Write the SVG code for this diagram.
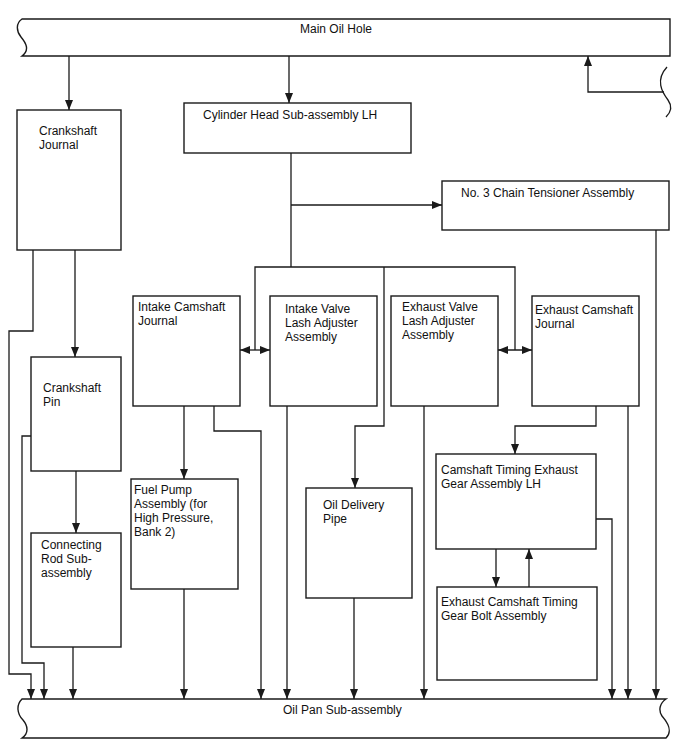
<svg xmlns="http://www.w3.org/2000/svg" width="688" height="755" viewBox="0 0 688 755">
<style>
.box{fill:#fff;stroke:#1a1a1a;stroke-width:1.4}
.ban{fill:#fff;stroke:#1a1a1a;stroke-width:1.4}
.c{fill:none;stroke:#1a1a1a;stroke-width:1.3}
.a{marker-end:url(#arr)}
.d{marker-start:url(#arr);marker-end:url(#arr)}
text{font-family:"Liberation Sans",Arial,sans-serif;font-size:12px;fill:#111}
</style>
<defs>
<marker id="arr" viewBox="0 0 10 8" markerWidth="10" markerHeight="8" refX="10" refY="4" orient="auto-start-reverse" markerUnits="userSpaceOnUse">
<path d="M0,0 L10,4 L0,8 z" fill="#1a1a1a"/>
</marker>
</defs>
<rect width="688" height="755" fill="#fff"/>

<g id="main-oil-hole">
<path class="ban" d="M22,19 H670 V56 H22 C30,50 26,43 21,37 C16,31 16,23 22,19 Z"/>
<text x="300" y="33">Main Oil Hole</text>
</g>
<g id="oil-pan">
<path class="ban" d="M22,699 H666 C660,703 658,710 662,716 C668,723 673,731 666,738 H22 C29,733 28,726 23,720 C17,714 16,705 22,699 Z"/>
<text x="283" y="714">Oil Pan Sub-assembly</text>
</g>
<g id="break-mark">
<path class="c" d="M667,67 C655,80 662,92 668,100 C673,107 670,113 666,117"/>
</g>

<g id="crankshaft-journal">
<rect class="box" x="17" y="110" width="104" height="140"/>
<text x="39" y="135">Crankshaft</text>
<text x="39" y="149">Journal</text>
</g>
<g id="cylinder-head">
<rect class="box" x="184" y="103" width="227" height="50"/>
<text x="203" y="119">Cylinder Head Sub-assembly LH</text>
</g>
<g id="chain-tensioner">
<rect class="box" x="442" y="181" width="227" height="49"/>
<text x="461" y="197">No. 3 Chain Tensioner Assembly</text>
</g>
<g id="intake-camshaft-journal">
<rect class="box" x="133" y="296" width="107" height="110"/>
<text x="138" y="311">Intake Camshaft</text>
<text x="138" y="325">Journal</text>
</g>
<g id="intake-valve-lash">
<rect class="box" x="270" y="296" width="107" height="110"/>
<text x="285" y="313">Intake Valve</text>
<text x="285" y="327">Lash Adjuster</text>
<text x="285" y="341">Assembly</text>
</g>
<g id="exhaust-valve-lash">
<rect class="box" x="391" y="296" width="107" height="110"/>
<text x="402" y="311">Exhaust Valve</text>
<text x="402" y="325">Lash Adjuster</text>
<text x="402" y="339">Assembly</text>
</g>
<g id="exhaust-camshaft-journal">
<rect class="box" x="532" y="296" width="107" height="110"/>
<text x="535" y="314">Exhaust Camshaft</text>
<text x="535" y="328">Journal</text>
</g>
<g id="crankshaft-pin">
<rect class="box" x="31" y="357" width="90" height="114"/>
<text x="43" y="392">Crankshaft</text>
<text x="43" y="406">Pin</text>
</g>
<g id="fuel-pump">
<rect class="box" x="131" y="479" width="107" height="110"/>
<text x="134" y="494">Fuel Pump</text>
<text x="134" y="508">Assembly (for</text>
<text x="134" y="522">High Pressure,</text>
<text x="134" y="536">Bank 2)</text>
</g>
<g id="oil-delivery-pipe">
<rect class="box" x="306" y="488" width="106" height="110"/>
<text x="323" y="509">Oil Delivery</text>
<text x="323" y="523">Pipe</text>
</g>
<g id="camshaft-timing-gear">
<rect class="box" x="436" y="454" width="160" height="95"/>
<text x="441" y="474">Camshaft Timing Exhaust</text>
<text x="441" y="488">Gear Assembly LH</text>
</g>
<g id="connecting-rod">
<rect class="box" x="31" y="533" width="90" height="114"/>
<text x="41" y="549">Connecting</text>
<text x="41" y="563">Rod Sub-</text>
<text x="41" y="577">assembly</text>
</g>
<g id="gear-bolt">
<rect class="box" x="437" y="587" width="160" height="93"/>
<text x="441" y="606">Exhaust Camshaft Timing</text>
<text x="441" y="620">Gear Bolt Assembly</text>
</g>

<g id="connectors">
<path class="c a" d="M69,56 V110"/>
<path class="c a" d="M289,56 V103"/>
<path class="c a" d="M664,92 H588 V56"/>
<path class="c" d="M291,153 V267"/>
<path class="c a" d="M291,205 H442"/>
<path class="c" d="M255,350 V267 H515 V350"/>
<path class="c a" d="M384,267 V426 H355 V488"/>
<path class="c d" d="M240,350 H270"/>
<path class="c d" d="M498,350 H532"/>
<path class="c a" d="M75,250 V357"/>
<path class="c a" d="M33,250 V331 H9 V674 H31 V699"/>
<path class="c a" d="M31,436 H22 V663 H44 V699"/>
<path class="c a" d="M76,471 V533"/>
<path class="c a" d="M73,647 V699"/>
<path class="c a" d="M184,406 V479"/>
<path class="c a" d="M214,406 V431 H261 V699"/>
<path class="c a" d="M184,589 V699"/>
<path class="c a" d="M287,406 V699"/>
<path class="c a" d="M354,598 V699"/>
<path class="c a" d="M424,406 V699"/>
<path class="c a" d="M596,406 V426 H515 V454"/>
<path class="c a" d="M628,406 V699"/>
<path class="c a" d="M656,230 V699"/>
<path class="c a" d="M596,519 H612 V699"/>
<path class="c a" d="M496,549 V587"/>
<path class="c a" d="M529,587 V549"/>
</g>
</svg>
